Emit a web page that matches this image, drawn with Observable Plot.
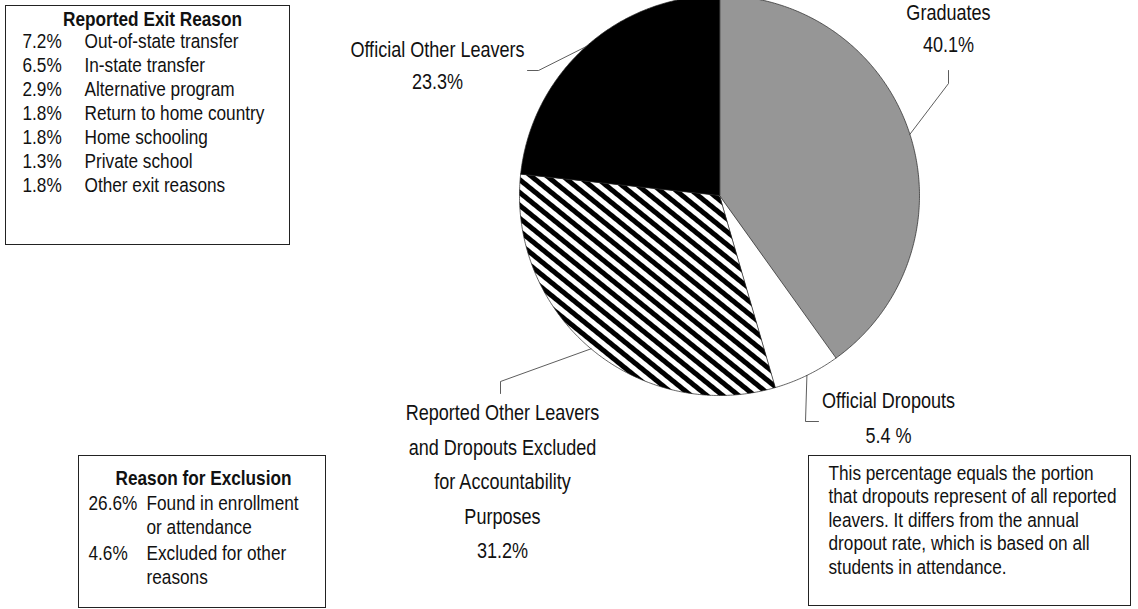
<!DOCTYPE html>
<html><head><meta charset="utf-8">
<script src="https://cdn.jsdelivr.net/npm/d3@7"></script>
<script src="https://cdn.jsdelivr.net/npm/@observablehq/plot@0.6"></script>
<style>body{margin:0;background:#fff}#chart svg{display:block}</style>
</head><body><div id="chart"></div>
<script>
// ---------- data ----------
const sliceNames = ["Graduates", "Official Dropouts", "Reported Other Leavers and Dropouts Excluded for Accountability Purposes", "Official Other Leavers"];
const sliceValues = [40.1, 5.4, 31.2, 23.3];
const sliceValueLabels = ["40.1%", "5.4 %", "31.2%", "23.3%"];
const sliceLabelLines = [["Graduates"], ["Official Dropouts"], ["Reported Other Leavers", "and Dropouts Excluded", "for Accountability", "Purposes"], ["Official Other Leavers"]];

const exitTitle = "Reported Exit Reason";
const exitPercents = ["7.2%", "6.5%", "2.9%", "1.8%", "1.8%", "1.3%", "1.8%"];
const exitReasons = ["Out-of-state transfer", "In-state transfer", "Alternative program", "Return to home country", "Home schooling", "Private school", "Other exit reasons"];

const exclTitle = "Reason for Exclusion";
const exclPercents = ["26.6%", "4.6%"];
const exclReasons = [["Found in enrollment", "or attendance"], ["Excluded for other", "reasons"]];

const noteLines = ["This percentage equals the portion", "that dropouts represent of all reported", "leavers. It differs from the annual", "dropout rate, which is based on all", "students in attendance."];

// ---------- layout & style ----------
const W = 1138, H = 609;
const CX = 719, CY = 195, R = 200;
const HATCH = "#123456"; // placeholder replaced by a pattern
const sliceFills = ["#969696", "#ffffff", HATCH, "#000000"];
const labelLayout = [
  {x: 948, y0: 13, dy: 32, elbow: [948, 83], end: [948, 70]},
  {x: 888, y0: 401, dy: 35, elbow: [805, 421], end: [818, 421]},
  {x: 502, y0: 413, dy: 34.5, elbow: [500, 381], end: [500, 393]},
  {x: 437, y0: 50, dy: 32, elbow: [538, 70], end: [527, 70]}
];
const FONT = "'Liberation Sans', Arial, sans-serif";
const SX = 0.84; // narrow type
const fsLegend = 20.5, fsPie = 21.5;

// ---------- pie geometry from data ----------
const arcs = d3.pie().sort(null).value(d => d)(sliceValues);
const px = a => CX + R * Math.sin(a);
const py = a => CY - R * Math.cos(a);
const slicePolys = arcs.map((a, i) => {
  const pts = [{x: CX, y: CY}];
  const n = Math.max(2, Math.ceil((a.endAngle - a.startAngle) / (Math.PI / 360)));
  for (let k = 0; k <= n; k++) {
    const t = a.startAngle + (a.endAngle - a.startAngle) * k / n;
    pts.push({x: px(t), y: py(t)});
  }
  return pts;
});

const leaders = [];
arcs.forEach((a, i) => {
  const mid = (a.startAngle + a.endAngle) / 2;
  const L = labelLayout[i];
  leaders.push({x: px(mid), y: py(mid), k: i});
  leaders.push({x: L.elbow[0], y: L.elbow[1], k: i});
  leaders.push({x: L.end[0], y: L.end[1], k: i});
});

const pieTexts = [];
sliceLabelLines.forEach((lines, i) => {
  const L = labelLayout[i];
  [...lines, sliceValueLabels[i]].forEach((t, j) => pieTexts.push({x: L.x, y: L.y0 + j * L.dy, t}));
});

const exitRows = exitPercents.map((p, i) => ({p, r: exitReasons[i], y: 41 + 24 * i}));
const exclRows = [];
exclPercents.forEach((p, i) => exclReasons[i].forEach((r, j) => exclRows.push({p: j === 0 ? p : "", r, y: 503 + 50 * i + 24 * j})));
const noteRows = noteLines.map((t, i) => ({t, y: 473 + 23.4 * i}));

const boxes = [
  {x1: 5.5, y1: 5.5, x2: 289.5, y2: 244.5},
  {x1: 78.5, y1: 455.5, x2: 325.5, y2: 607.5},
  {x1: 808.5, y1: 455.5, x2: 1130.5, y2: 605.5}
];

const marks = [];
slicePolys.forEach((pts, i) => {
  marks.push(Plot.line(pts, {x: "x", y: "y", fill: sliceFills[i], stroke: "#222", strokeWidth: 0.7, curve: "linear-closed"}));
});
marks.push(Plot.line(leaders, {x: "x", y: "y", z: "k", stroke: "#333", strokeWidth: 0.8}));
marks.push(Plot.text(pieTexts, {x: "x", y: "y", text: "t", fontSize: fsPie, fill: "#111"}));
marks.push(Plot.rect(boxes, {x1: "x1", y1: "y1", x2: "x2", y2: "y2", fill: "white", stroke: "#222", strokeWidth: 1}));
marks.push(Plot.text([exitTitle], {x: () => 152, y: () => 19, text: d => d, fontSize: fsLegend, fontWeight: "bold", fill: "#111"}));
marks.push(Plot.text(exitRows, {x: () => 22, y: "y", text: "p", textAnchor: "start", fontSize: fsLegend, fill: "#111"}));
marks.push(Plot.text(exitRows, {x: () => 84, y: "y", text: "r", textAnchor: "start", fontSize: fsLegend, fill: "#111"}));
marks.push(Plot.text([exclTitle], {x: () => 203, y: () => 478, text: d => d, fontSize: fsLegend, fontWeight: "bold", fill: "#111"}));
marks.push(Plot.text(exclRows, {x: () => 88, y: "y", text: "p", textAnchor: "start", fontSize: fsLegend, fill: "#111"}));
marks.push(Plot.text(exclRows, {x: () => 146, y: "y", text: "r", textAnchor: "start", fontSize: fsLegend, fill: "#111"}));
marks.push(Plot.text(noteRows, {x: () => 828, y: "y", text: "t", textAnchor: "start", fontSize: fsLegend, fill: "#111"}));

const svg = Plot.plot({
  width: W, height: H,
  marginTop: 0, marginRight: 0, marginBottom: 0, marginLeft: 0,
  x: {domain: [0, W], range: [0, W], axis: null},
  y: {domain: [0, H], range: [0, H], axis: null},
  style: {fontFamily: FONT, background: "white", color: "#111"},
  marks
});

// hatch pattern
const s = d3.select(svg);
const defs = s.insert("defs", ":first-child");
const pat = defs.append("pattern").attr("id", "hatch").attr("patternUnits", "userSpaceOnUse")
  .attr("width", 10).attr("height", 10).attr("patternTransform", "rotate(39)");
pat.append("rect").attr("width", 10).attr("height", 10).attr("fill", "white");
pat.append("rect").attr("width", 10).attr("height", 5).attr("fill", "black");
s.selectAll(`[fill="${HATCH}"]`).attr("fill", "url(#hatch)");

// narrow type
s.selectAll("text").each(function() {
  const el = d3.select(this);
  const tr = el.attr("transform");
  if (tr) {
    el.attr("transform", tr + ` scale(${SX},1)`);
  } else {
    const x = +el.attr("x") || 0, y = +el.attr("y") || 0;
    el.attr("x", null).attr("y", null).attr("transform", `translate(${x},${y}) scale(${SX},1)`);
  }
});

document.getElementById("chart").appendChild(svg);
</script>
</body></html>
